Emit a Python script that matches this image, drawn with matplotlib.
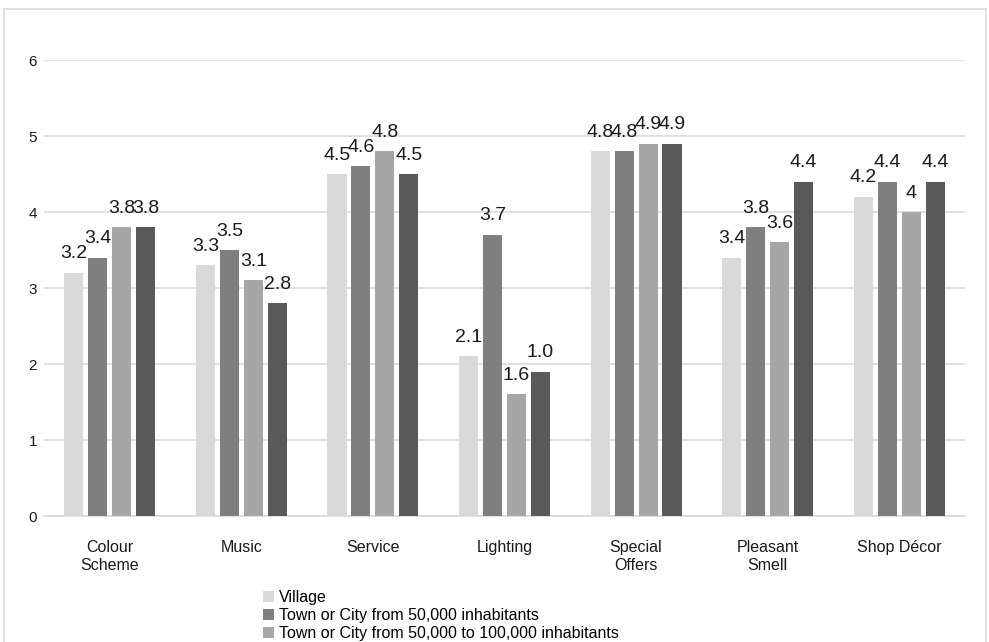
import matplotlib.pyplot as plt
import numpy as np
from matplotlib.patches import Rectangle

plt.rcParams['font.family'] = ['Liberation Sans', 'DejaVu Sans']

categories = ["Colour\nScheme", "Music", "Service", "Lighting", "Special\nOffers", "Pleasant\nSmell", "Shop Décor"]
series_names = [
    "Village",
    "Town or City from 50,000 inhabitants",
    "Town or City from 50,000 to 100,000 inhabitants",
    "City over 100,000 inhabitants",
]
village = [3.2, 3.3, 4.5, 2.1, 4.8, 3.4, 4.2]
town_50k = [3.4, 3.5, 4.6, 3.7, 4.8, 3.8, 4.4]
town_50k_100k = [3.8, 3.1, 4.8, 1.6, 4.9, 3.6, 4.0]
city_100k = [3.8, 2.8, 4.5, 1.9, 4.9, 4.4, 4.4]

# data label texts as printed on the chart
village_labels = ["3.2", "3.3", "4.5", "2.1", "4.8", "3.4", "4.2"]
town_50k_labels = ["3.4", "3.5", "4.6", "3.7", "4.8", "3.8", "4.4"]
town_50k_100k_labels = ["3.8", "3.1", "4.8", "1.6", "4.9", "3.6", "4"]
city_100k_labels = ["3.8", "2.8", "4.5", "1.0", "4.9", "4.4", "4.4"]

y_ticks = [0, 1, 2, 3, 4, 5, 6]

series = [village, town_50k, town_50k_100k, city_100k]
labels = [village_labels, town_50k_labels, town_50k_100k_labels, city_100k_labels]
colors = ["#d9d9d9", "#7f7f7f", "#a6a6a6", "#595959"]

fig = plt.figure(figsize=(9.89, 6.42), dpi=100)
fig.patches.append(Rectangle((4 / 989, -0.1), 982 / 989, 1 - 9 / 642 + 0.1,
                             transform=fig.transFigure, fill=False,
                             edgecolor="#d9d9d9", linewidth=1.2))

ax = fig.add_axes([44 / 989, 1 - 516 / 642, 921 / 989, (516 - 60) / 642])

x = np.arange(len(categories))
pitch = 0.182
width = 0.145
handles = []
for i, (vals, labs, col, name) in enumerate(zip(series, labels, colors, series_names)):
    pos = x + (i - 1.5) * pitch
    bars = ax.bar(pos, vals, width, color=col, label=name, zorder=3)
    handles.append(bars)
    for b, t in zip(bars, labs):
        ax.annotate(t, (b.get_x() + b.get_width() / 2, b.get_height()),
                    xytext=(0, 7.5), textcoords="offset points",
                    ha="center", va="bottom", fontsize=14, color="#1a1a1a")

ax.set_xlim(-0.5, len(categories) - 0.5)
ax.set_ylim(0, 6)
ax.set_yticks(y_ticks)
ax.set_xticks(x)
ax.set_xticklabels(categories, fontsize=11.5, linespacing=1.3)
ax.tick_params(axis="y", labelsize=11, length=0, pad=5, labelcolor="#1a1a1a")
ax.tick_params(axis="x", length=0, pad=17, labelcolor="#1a1a1a")
ax.grid(axis="y", color="#d9d9d9", linewidth=1.2, zorder=0)
for s in ["top", "right", "left"]:
    ax.spines[s].set_visible(False)
ax.spines["bottom"].set_color("#d9d9d9")
ax.spines["bottom"].set_linewidth(1.2)

# the legend box runs past the bottom edge; only the first entries fit
fig.legend(handles[:3], series_names[:3], loc="upper left",
           bbox_to_anchor=(263 / 989, 1 - 590 / 642),
           frameon=False, fontsize=11.5, handlelength=0.7, handleheight=0.7,
           handletextpad=0.3, labelspacing=0.2, borderpad=0, borderaxespad=0)

fig.savefig("out.png", dpi=100)
